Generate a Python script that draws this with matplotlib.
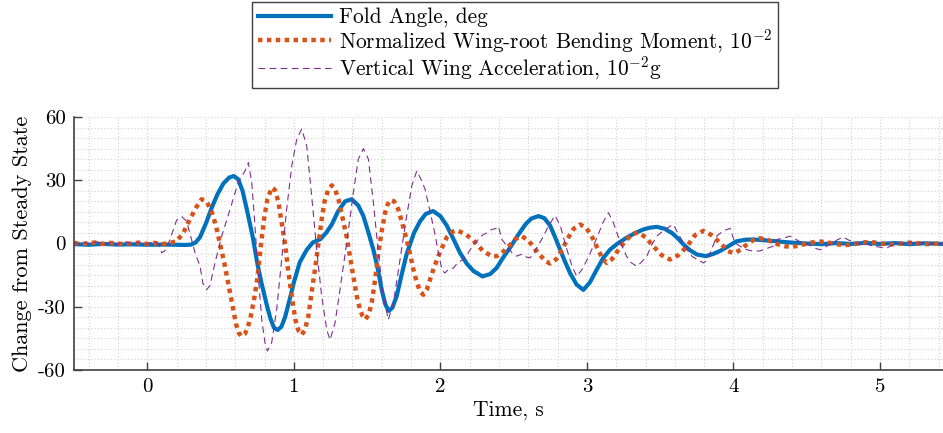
import matplotlib
matplotlib.use("Agg")
import matplotlib.pyplot as plt
from matplotlib.ticker import MultipleLocator

# Fold angle (deg)
fold_time = [
    -0.50, -0.40, -0.30, -0.20, -0.10, 0.00, 0.10, 0.20, 0.26, 0.30,
    0.33, 0.36, 0.40, 0.44, 0.48, 0.52, 0.56, 0.59, 0.62, 0.65,
    0.68, 0.72, 0.75, 0.78, 0.815, 0.84, 0.865, 0.89, 0.915, 0.94,
    0.97, 1.00, 1.04, 1.088, 1.13, 1.18, 1.22, 1.259, 1.30, 1.35,
    1.395, 1.44, 1.475, 1.51, 1.543, 1.57, 1.60, 1.625, 1.648, 1.672,
    1.702, 1.735, 1.77, 1.82, 1.861, 1.90, 1.95, 2.00, 2.044, 2.09,
    2.134, 2.18, 2.225, 2.287, 2.34, 2.385, 2.43, 2.48, 2.53, 2.58,
    2.62, 2.669, 2.71, 2.749, 2.78, 2.817, 2.85, 2.885, 2.93, 2.976,
    3.02, 3.067, 3.11, 3.158, 3.21, 3.27, 3.33, 3.386, 3.43, 3.477,
    3.53, 3.58, 3.62, 3.66, 3.70, 3.75, 3.81, 3.86, 3.91, 3.96,
    4.02, 4.08, 4.14, 4.22, 4.30, 4.40, 4.50, 4.60, 4.70, 4.80,
    4.90, 5.00, 5.10, 5.20, 5.30, 5.43]
fold_angle = [
    -0.3, -0.6, -0.2, -0.5, -0.4, -0.6, -0.5, -0.6, -0.7, -0.5,
    0.5, 3.0, 9.5, 17.0, 23.5, 28.5, 31.3, 32.0, 30.5, 25.0,
    16.0, 3.0, -9.0, -19.0, -29.0, -35.5, -40.0, -41.0, -39.5, -35.0,
    -27.0, -18.5, -9.0, -3.0, 0.5, 2.0, 5.0, 9.0, 15.0, 20.0,
    21.0, 18.0, 13.0, 5.0, -3.0, -11.0, -22.0, -29.0, -32.0, -30.5,
    -25.0, -15.0, -5.0, 5.0, 10.5, 14.0, 15.4, 13.0, 8.5, 2.0,
    -4.4, -9.5, -13.0, -15.6, -14.5, -11.5, -6.5, -1.5, 4.0, 9.0,
    11.8, 13.0, 12.0, 8.5, 3.5, -2.9, -8.5, -14.0, -19.5, -22.0,
    -18.5, -12.4, -7.0, -2.9, 0.0, 2.7, 5.0, 6.7, 7.5, 7.9,
    7.0, 5.0, 2.5, -0.5, -3.0, -5.2, -6.0, -5.0, -3.5, -1.5,
    1.0, 1.8, 1.9, 1.5, 1.0, 0.4, 0.0, -0.3, 0.2, -0.2,
    0.3, -0.2, 0.2, -0.3, 0.1, -0.2]

# Normalized wing-root bending moment (1e-2)
moment_time = [
    -0.50, -0.45, -0.40, -0.35, -0.30, -0.25, -0.20, -0.15, -0.10, -0.05,
    0.00, 0.05, 0.10, 0.15, 0.20, 0.246, 0.29, 0.337, 0.371, 0.405,
    0.44, 0.47, 0.496, 0.525, 0.553, 0.58, 0.605, 0.625, 0.644, 0.665,
    0.685, 0.705, 0.73, 0.75, 0.78, 0.80, 0.82, 0.849, 0.87, 0.894,
    0.915, 0.94, 0.96, 0.986, 1.01, 1.033, 1.054, 1.075, 1.099, 1.12,
    1.145, 1.17, 1.19, 1.21, 1.235, 1.259, 1.28, 1.304, 1.33, 1.361,
    1.385, 1.406, 1.43, 1.452, 1.47, 1.486, 1.51, 1.532, 1.555, 1.577,
    1.60, 1.623, 1.64, 1.657, 1.685, 1.714, 1.74, 1.77, 1.79, 1.816,
    1.84, 1.861, 1.884, 1.907, 1.93, 1.952, 1.975, 2.00, 2.044, 2.08,
    2.112, 2.17, 2.225, 2.29, 2.35, 2.385, 2.42, 2.464, 2.51, 2.555,
    2.60, 2.645, 2.68, 2.72, 2.749, 2.79, 2.83, 2.87, 2.91, 2.954,
    2.995, 3.04, 3.08, 3.11, 3.136, 3.17, 3.21, 3.26, 3.31, 3.35,
    3.40, 3.454, 3.51, 3.568, 3.625, 3.682, 3.738, 3.795, 3.85, 3.909,
    3.96, 4.00, 4.05, 4.09, 4.14, 4.18, 4.24, 4.30, 4.35, 4.40,
    4.46, 4.52, 4.58, 4.64, 4.70, 4.76, 4.82, 4.88, 4.94, 5.00,
    5.06, 5.12, 5.18, 5.24, 5.30, 5.36, 5.43]
bending_moment = [
    0.3, -0.3, 0.2, 0.5, -0.2, 0.3, 0.0, -0.4, 0.2, 0.4,
    -0.2, 0.3, -0.3, 0.2, 1.0, 5.0, 11.4, 17.5, 21.0, 20.0,
    15.0, 8.0, 0.0, -9.0, -19.0, -29.0, -38.0, -42.5, -44.0, -43.0,
    -40.0, -35.0, -26.0, -17.0, 2.0, 13.0, 21.0, 26.5, 25.5, 20.0,
    11.0, 0.0, -12.0, -25.0, -36.0, -41.5, -43.3, -41.0, -34.6, -24.0,
    -12.0, 1.0, 11.4, 20.0, 25.5, 27.6, 26.0, 21.0, 13.0, 3.0,
    -7.0, -15.6, -25.0, -31.4, -34.5, -36.0, -34.0, -28.0, -17.0, -4.4,
    6.0, 14.6, 18.5, 20.6, 20.0, 16.0, 9.5, 1.9, -4.0, -12.4,
    -18.5, -22.7, -24.3, -22.0, -17.0, -12.4, -8.0, -3.7, 3.0, 5.5,
    6.3, 4.5, 1.5, -3.5, -6.0, -6.0, -4.5, -1.5, 2.0, 3.5,
    1.5, -2.5, -5.5, -8.5, -9.5, -7.5, -3.0, 2.5, 7.0, 9.0,
    7.5, 2.5, -3.5, -7.5, -9.2, -7.5, -3.5, 1.0, 4.5, 5.2,
    3.0, -1.3, -5.5, -7.6, -5.5, -1.5, 4.0, 6.0, 4.0, 0.3,
    -3.5, -4.6, -3.0, -0.5, 1.8, 2.5, 1.5, -0.3, -1.3, -1.6,
    -0.8, 0.3, 1.0, 0.6, -0.3, -0.8, -0.4, 0.5, 0.7, 0.1,
    -0.5, -0.3, 0.4, 0.3, -0.3, -0.2, 0.2]

# Vertical wing acceleration (1e-2 g)
accel_time = [
    -0.50, -0.46, -0.42, -0.38, -0.34, -0.30, -0.26, -0.22, -0.18, -0.14,
    -0.10, -0.06, -0.02, 0.02, 0.05, 0.08, 0.098, 0.12, 0.15, 0.18,
    0.20, 0.234, 0.268, 0.29, 0.326, 0.36, 0.38, 0.405, 0.428, 0.462,
    0.508, 0.565, 0.621, 0.667, 0.69, 0.713, 0.735, 0.758, 0.781, 0.803,
    0.82, 0.849, 0.883, 0.917, 0.951, 0.986, 1.02, 1.054, 1.088, 1.122,
    1.156, 1.19, 1.225, 1.247, 1.281, 1.315, 1.361, 1.406, 1.44, 1.475,
    1.509, 1.543, 1.577, 1.611, 1.645, 1.68, 1.725, 1.77, 1.805, 1.839,
    1.873, 1.896, 1.952, 2.01, 2.03, 2.06, 2.09, 2.12, 2.157, 2.19,
    2.225, 2.26, 2.293, 2.32, 2.35, 2.375, 2.396, 2.42, 2.464, 2.49,
    2.52, 2.56, 2.59, 2.612, 2.635, 2.658, 2.70, 2.737, 2.783, 2.82,
    2.86, 2.90, 2.931, 2.97, 3.02, 3.07, 3.11, 3.147, 3.18, 3.22,
    3.27, 3.30, 3.34, 3.37, 3.409, 3.44, 3.477, 3.52, 3.568, 3.59,
    3.62, 3.659, 3.69, 3.716, 3.75, 3.795, 3.82, 3.85, 3.886, 3.93,
    3.977, 4.01, 4.05, 4.09, 4.137, 4.18, 4.22, 4.27, 4.30, 4.34,
    4.387, 4.45, 4.50, 4.55, 4.59, 4.63, 4.67, 4.71, 4.75, 4.79,
    4.82, 4.86, 4.90, 4.94, 4.98, 5.02, 5.05, 5.09, 5.13, 5.17,
    5.21, 5.25, 5.29, 5.33, 5.37, 5.43]
wing_accel = [
    0.5, -0.8, 0.6, -0.3, 0.9, -0.6, 0.4, -1.0, 0.3, 0.8,
    -0.5, 0.6, -0.7, 0.4, 1.0, -0.5, -4.4, -3.5, 1.0, 7.0,
    11.0, 12.8, 10.6, 5.0, -4.4, -10.8, -19.0, -21.9, -20.0, -9.2,
    3.5, 16.2, 29.0, 34.4, 38.4, 29.0, 8.2, -15.6, -36.0, -47.0,
    -51.0, -47.0, -31.4, -7.6, 16.2, 36.8, 49.5, 54.3, 46.3, 22.5,
    -2.9, -25.0, -41.0, -45.7, -37.8, -21.9, 0.3, 24.0, 40.0, 45.0,
    40.0, 19.4, -4.4, -25.0, -36.2, -28.0, -7.6, 13.0, 27.3, 34.4,
    29.7, 25.7, 8.2, -12.4, -14.0, -12.0, -11.6, -9.0, -7.6, -4.5,
    -0.5, 2.0, 4.3, 5.0, 6.7, 7.0, 8.2, 1.9, -2.0, -4.5,
    -6.0, -5.0, -6.5, -6.8, -5.0, -2.0, 3.0, 8.2, 13.3, 8.0,
    -2.0, -11.0, -15.6, -12.0, -5.0, 3.0, 10.0, 14.6, 10.0, 2.0,
    -6.0, -9.0, -10.8, -9.0, -6.0, -1.0, 3.5, 6.0, 8.2, 9.0,
    5.0, 0.3, -3.5, -6.0, -7.5, -9.2, -8.0, -3.0, 3.5, 6.0,
    7.2, 0.3, -1.5, -2.9, -3.7, -3.5, -2.5, -1.3, 2.0, 2.5,
    3.5, 1.0, 0.0, -2.0, -3.0, -1.5, 0.0, 1.8, 3.0, 1.5,
    1.0, -0.5, 0.0, -1.0, -1.5, -2.0, -2.0, -0.5, 0.3, -0.6,
    0.8, -0.4, 0.5, -0.7, 0.4, -0.3]

labels = ['Fold Angle, deg',
          r'Normalized Wing-root Bending Moment, $10^{-2}$',
          r'Vertical Wing Acceleration, $10^{-2}$g']
y_ticks = [-60, -30, 0, 30, 60]
x_ticks = [0, 1, 2, 3, 4, 5]

plt.rcParams['font.family'] = 'cmr10'
plt.rcParams['mathtext.fontset'] = 'cm'
plt.rcParams['axes.unicode_minus'] = False

fig = plt.figure(figsize=(9.43, 4.33), dpi=100)
ax = fig.add_axes([74 / 943, 1 - 370 / 433, (943 - 74) / 943, (370 - 117) / 433])

ax.plot(fold_time, fold_angle, color='#0072bd', lw=3.0, label=labels[0])
ax.plot(moment_time, bending_moment, color='#d95319', lw=3.2,
        linestyle=(0, (1, 1.0)), label=labels[1])
ax.plot(accel_time, wing_accel, color='#7e2f8e', lw=0.8,
        linestyle=(0, (6, 4)), label=labels[2])

ax.set_xlim(-0.5, 5.43)
ax.set_ylim(-60, 60)
ax.set_xticks(x_ticks)
ax.set_xticklabels([str(v) for v in x_ticks])
ax.set_yticks(y_ticks)
ax.set_yticklabels([str(v) for v in y_ticks])
ax.xaxis.set_minor_locator(MultipleLocator(0.2))
ax.yaxis.set_minor_locator(MultipleLocator(5))
ax.grid(which='both', color='#d0d0d0', lw=0.8, linestyle=(0, (1, 2)))
ax.set_axisbelow(True)
ax.tick_params(which='major', direction='in', length=6, width=1,
               color='#404040', labelsize=15, pad=6)
ax.tick_params(which='minor', length=0)

for side in ['top', 'right']:
    ax.spines[side].set_visible(False)
for side in ['left', 'bottom']:
    ax.spines[side].set_color('#404040')
    ax.spines[side].set_linewidth(1.2)

ax.set_xlabel('Time, s', fontsize=15.5, labelpad=3)
ax.set_ylabel('Change from Steady State', fontsize=16, labelpad=4)

fig.legend(loc='upper center', bbox_to_anchor=(0.546, 0.995), fontsize=15.4,
           fancybox=False, edgecolor='#404040', framealpha=1,
           handlelength=3.45, handletextpad=0.35, labelspacing=0.0,
           borderpad=0.25, borderaxespad=0)

fig.savefig('out.png', dpi=100)
